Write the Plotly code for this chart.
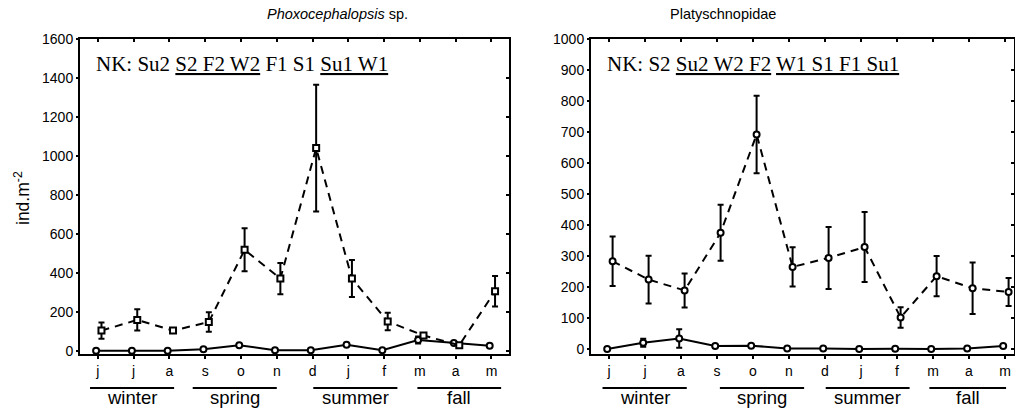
import plotly.graph_objects as go

# ---------------- data ----------------
months = ["j", "j", "a", "s", "o", "n", "d", "j", "f", "m", "a", "m"]

phox_dashed_mean = [103, 158, 103, 147, 518, 370, 1040, 370, 150, 78, 28, 305]
phox_dashed_err = [42, 55, 5, 50, 110, 80, 325, 95, 45, 12, 5, 78]
phox_solid_mean = [0, 0, 0, 8, 28, 2, 2, 30, 2, 55, 40, 25]
phox_solid_err = [0, 0, 0, 0, 0, 0, 0, 0, 0, 18, 0, 0]

platy_dashed_mean = [283, 224, 189, 375, 692, 265, 294, 329, 102, 235, 196, 184]
platy_dashed_err = [80, 77, 55, 90, 125, 63, 100, 113, 33, 65, 83, 45]
platy_solid_mean = [0, 20, 34, 10, 11, 2, 2, 0, 1, 0, 2, 10]
platy_solid_err = [0, 13, 30, 0, 0, 0, 0, 0, 0, 0, 0, 0]

seasons = ["winter", "spring", "summer", "fall"]
left_season_spans = [(-0.22, 2.13), (2.65, 5.0), (6.02, 8.37), (8.93, 11.27)]
right_season_spans = [(-0.18, 2.16), (3.08, 5.42), (6.02, 8.35), (8.9, 11.03)]

left_title = "<i>Phoxocephalopsis</i> sp."
right_title = "Platyschnopidae"
left_nk = "NK: Su2 <u>S2 F2 W2</u> F1 S1 <u>Su1 W1</u>"
right_nk = "NK: S2 <u>Su2 W2 F2</u> <u>W1 S1 F1 Su1</u>"
y_label = "ind.m<sup>-2</sup>"

# ---------------- layout constants ----------------
W, H = 1015, 408
TOP, BOT = 39, 354
PH = BOT - TOP
SANS = "Arial, Liberation Sans, sans-serif"
SERIF = "Times New Roman, Liberation Serif, serif"
DODGE_DASH = 0.1
DODGE_SOLID = -0.05

idx = list(range(len(months)))


def py(px):
    return (BOT - px) / PH


fig = go.Figure()


def add_series(xa, ya, mean, err, dodge, dash, symbol):
    fig.add_trace(go.Scatter(
        x=[i + dodge for i in idx], y=mean, xaxis=xa, yaxis=ya,
        mode="lines+markers",
        line=dict(color="black", width=2, dash=dash),
        marker=dict(symbol=symbol, size=6, color="white",
                    line=dict(color="black", width=2)),
        error_y=dict(type="data", array=err, visible=True, color="black",
                     thickness=2, width=3),
        showlegend=False, cliponaxis=False,
    ))


add_series("x", "y", phox_solid_mean, phox_solid_err, DODGE_SOLID, "solid", "circle")
add_series("x", "y", phox_dashed_mean, phox_dashed_err, DODGE_DASH, "8px,6px", "square")
add_series("x2", "y2", platy_solid_mean, platy_solid_err, DODGE_SOLID, "solid", "circle")
add_series("x2", "y2", platy_dashed_mean, platy_dashed_err, DODGE_DASH, "8px,6px", "circle")

dom_left = [80 / W, 509 / W]
dom_right = [591 / W, 1014 / W]
xr_left = [-0.5, 11.49]
xr_right = [-0.5, 11.25]
yr_left = [-17, 1600]
yr_right = [-16, 1000]

xcommon = dict(tickmode="array", tickvals=idx, ticktext=months,
               ticks="outside", ticklen=3, tickwidth=1.5, tickcolor="black",
               showline=True, linecolor="black", linewidth=2, mirror=True,
               showgrid=False, zeroline=False,
               tickfont=dict(family=SANS, size=14, color="black"))
ycommon = dict(ticks="outside", ticklen=2, tickwidth=1.5, tickcolor="black",
               showline=True, linecolor="black", linewidth=2, mirror=True,
               showgrid=False, zeroline=False,
               tickfont=dict(family=SANS, size=14, color="black"))

fig.update_layout(
    width=W, height=H,
    margin=dict(l=0, r=0, t=TOP, b=H - BOT),
    paper_bgcolor="white", plot_bgcolor="white",
    xaxis=dict(domain=dom_left, range=xr_left, anchor="y", **xcommon),
    yaxis=dict(domain=[0, 1], range=yr_left, anchor="x", dtick=200, **ycommon),
    xaxis2=dict(domain=dom_right, range=xr_right, anchor="y2", **xcommon),
    yaxis2=dict(domain=[0, 1], range=yr_right, anchor="x2", dtick=100, **ycommon),
    # inside ticks on the top / right edges
    xaxis3=dict(overlaying="x", side="top", range=xr_left, anchor="y",
                tickmode="array", tickvals=idx, ticks="inside", ticklen=3,
                tickwidth=1.5, tickcolor="black", showticklabels=False,
                showgrid=False, zeroline=False, showline=False),
    yaxis3=dict(overlaying="y", side="right", range=yr_left, anchor="x", dtick=200,
                ticks="inside", ticklen=3, tickwidth=1.5, tickcolor="black",
                showticklabels=False, showgrid=False, zeroline=False, showline=False),
    xaxis4=dict(overlaying="x2", side="top", range=xr_right, anchor="y2",
                tickmode="array", tickvals=idx, ticks="inside", ticklen=3,
                tickwidth=1.5, tickcolor="black", showticklabels=False,
                showgrid=False, zeroline=False, showline=False),
    yaxis4=dict(overlaying="y2", side="right", range=yr_right, anchor="x2", dtick=100,
                ticks="inside", ticklen=3, tickwidth=1.5, tickcolor="black",
                showticklabels=False, showgrid=False, zeroline=False, showline=False),
)

# invisible traces so overlay axes render
for xa, ya, xr, yr in [("x3", "y3", xr_left, yr_left), ("x4", "y4", xr_right, yr_right)]:
    fig.add_trace(go.Scatter(x=[xr[0]], y=[yr[0]], xaxis=xa, yaxis=ya, mode="markers",
                             marker=dict(opacity=0), showlegend=False, hoverinfo="skip"))

# y-axis label
fig.add_annotation(text=y_label, x=22 / W, y=py(198), xref="paper", yref="paper",
                   textangle=-90, showarrow=False, xanchor="center", yanchor="middle",
                   font=dict(family=SANS, size=17.5, color="black"))

# titles
fig.add_annotation(text=left_title, x=265 / W, y=py(14), yanchor="middle",
                   xref="paper", yref="paper", showarrow=False,
                   font=dict(family=SANS, size=14.5, color="black"))
fig.add_annotation(text=right_title, x=778 / W, y=py(14), yanchor="middle",
                   xref="paper", yref="paper", showarrow=False,
                   font=dict(family=SANS, size=14.5, color="black"))

# NK text
fig.add_annotation(text=left_nk, x=94 / W, y=py(64), xref="paper", yref="paper",
                   xanchor="left", yanchor="middle", showarrow=False,
                   font=dict(family=SERIF, size=21, color="black"))
fig.add_annotation(text=right_nk, x=605 / W, y=py(64), xref="paper", yref="paper",
                   xanchor="left", yanchor="middle", showarrow=False,
                   font=dict(family=SERIF, size=21, color="black"))

# seasons
for xref, spans in [("x", left_season_spans), ("x2", right_season_spans)]:
    for name, (a, b) in zip(seasons, spans):
        fig.add_shape(type="line", xref=xref, yref="paper", x0=a, x1=b,
                      y0=py(388), y1=py(388), line=dict(color="black", width=2))
        fig.add_annotation(text=name, x=(a + b) / 2, y=py(397), xref=xref, yref="paper",
                           yanchor="middle", showarrow=False, borderpad=0,
                           font=dict(family=SANS, size=18.5, color="black"))

fig.write_html("out.html", post_script="document.body.style.margin='0';",
               config={"displayModeBar": False})
